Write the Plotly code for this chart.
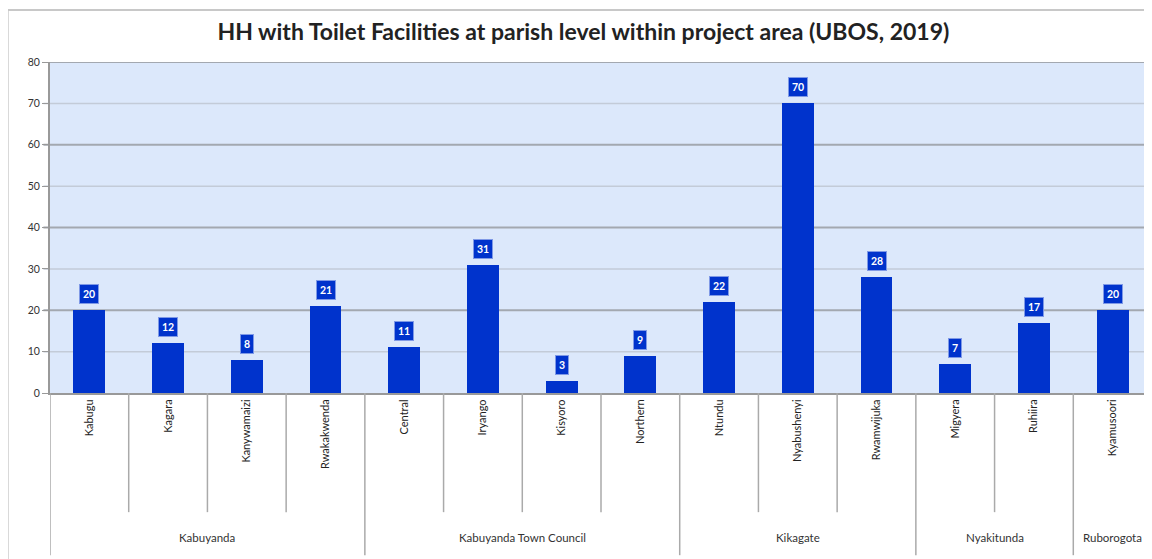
import plotly.graph_objects as go

parishes = ["Kabugu", "Kagara", "Kanywamaizi", "Rwakakwenda",
            "Central", "Iryango", "Kisyoro", "Northern",
            "Ntundu", "Nyabushenyi", "Rwamwijuka",
            "Migyera", "Ruhiira", "Kyamusoori"]
values = [20, 12, 8, 21, 11, 31, 3, 9, 22, 70, 28, 7, 17, 20]
groups = ["Kabuyanda", "Kabuyanda Town Council", "Kikagate", "Nyakitunda", "Ruborogota"]
group_sizes = [4, 4, 3, 2, 1]
y_ticks = [0, 10, 20, 30, 40, 50, 60, 70, 80]

BLUE = "#0033cc"
FONT = "Lato"

xs = list(range(len(parishes)))
fig = go.Figure()
fig.add_trace(go.Bar(x=xs, y=values, width=0.405, marker=dict(color=BLUE, line=dict(width=0)),
                     hoverinfo="skip"))

# data labels
for x, v in zip(xs, values):
    fig.add_annotation(x=x, y=v, text=f"<b>{v}</b>", showarrow=False, yanchor="bottom",
                       yshift=6, bgcolor=BLUE, bordercolor="#7f99e6", borderwidth=1, borderpad=3,
                       font=dict(color="white", size=10.5, family=FONT))

shapes = []
# gridlines: alternating darker / lighter, extending slightly left as tick marks
for t in y_ticks[1:]:
    dark = (t % 20 == 0)
    shapes.append(dict(type="line", xref="paper", yref="y", x0=-0.006, x1=1, y0=t, y1=t,
                       line=dict(color="#a3a8b0" if dark else "#c3cbd8", width=2 if dark else 1.5),
                       layer="below"))

# hierarchical category axis
start = 0
for g, n in zip(groups, group_sizes):
    shapes.append(dict(type="line", xref="x", yref="paper", x0=start - 0.5, x1=start - 0.5,
                       y0=0, y1=-0.49, line=dict(color="#aaaaaa", width=1.5)))
    for k in range(1, n):
        shapes.append(dict(type="line", xref="x", yref="paper", x0=start + k - 0.5, x1=start + k - 0.5,
                           y0=0, y1=-0.36, line=dict(color="#aaaaaa", width=1.5)))
    center = start + (n - 1) / 2
    fig.add_annotation(x=center, y=-0.438, xref="x", yref="paper", text=g, showarrow=False,
                       yanchor="middle", font=dict(size=11.5, color="#333333", family=FONT))
    start += n
shapes.append(dict(type="line", xref="x", yref="paper", x0=start - 0.5, x1=start - 0.5,
                   y0=0, y1=-0.49, line=dict(color="#aaaaaa", width=1.5)))
# outer chart frame
shapes.append(dict(type="rect", xref="paper", yref="paper", x0=-0.0384, x1=1.2, y0=-1.0, y1=1.157,
                   line=dict(color="#c8c8c8", width=2), layer="below"))
fig.update_layout(shapes=shapes)

fig.update_layout(
    width=1144, height=551,
    margin=dict(l=42, r=0, t=54, b=166),
    paper_bgcolor="white", plot_bgcolor="#dce8fb",
    showlegend=False, bargap=0,
    title=dict(text="<b>HH with Toilet Facilities at parish level within project area (UBOS, 2019)</b>",
               x=0.503, xanchor="center", y=0.957, yanchor="middle",
               font=dict(size=23, color="#222222", family=FONT)),
    xaxis=dict(tickmode="array", tickvals=xs, ticktext=parishes, tickangle=-90,
               range=[-0.5, len(parishes) - 0.5], showgrid=False, ticks="",
               showline=True, linecolor="#999999", linewidth=2,
               tickfont=dict(size=11, color="#222222", family=FONT), automargin=False),
    yaxis=dict(range=[0, 80], tickvals=y_ticks, showgrid=False,
               zeroline=False, showline=True, linecolor="#999999", linewidth=2,
               ticks="outside", ticklen=6, tickcolor="#999999",
               tickfont=dict(size=10.5, color="#333333", family=FONT), tickprefix="<b>", ticksuffix="</b>",
               automargin=False),
)

fig.write_html("out.html")
